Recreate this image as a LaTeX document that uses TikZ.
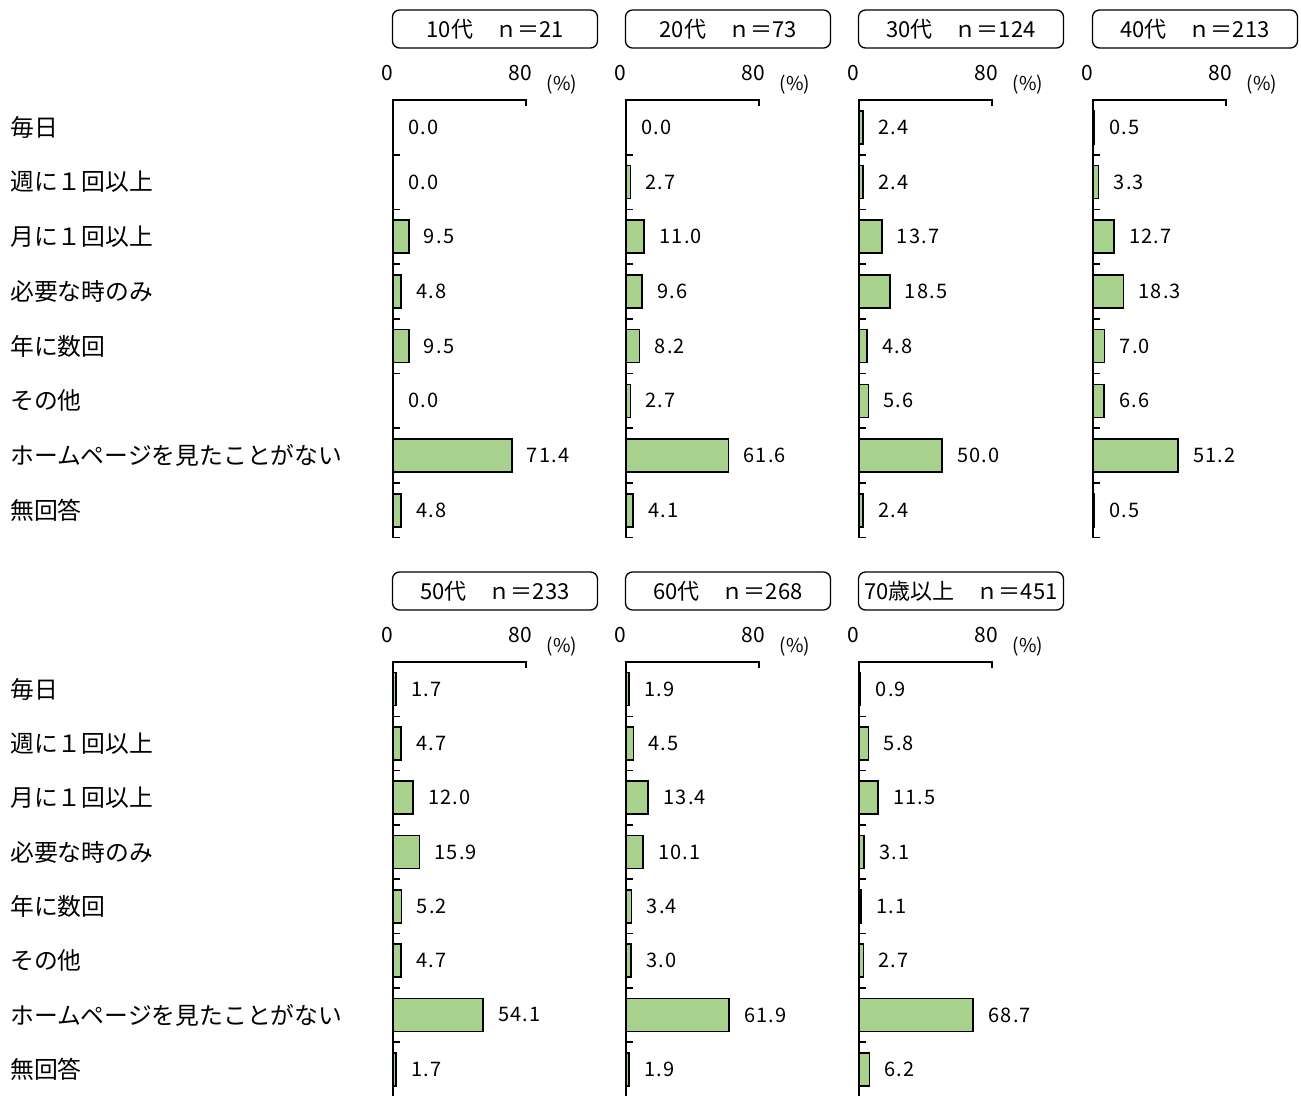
\documentclass[tikz,border=0pt]{standalone}
\usepackage{fontspec}
\setmainfont{Noto Sans CJK JP}
\definecolor{barg}{HTML}{A9D18E}
\newcommand\drawpanel[6]{%
  \node[hdrbox] (#1-h) at (#2+102,#3+29) {#5};
  \node[axtxt] (#1-z) at (#2-6,#3+73) {0};
  \node[axtxt] (#1-e) at (#2+127,#3+73) {80};
  \node[pcttxt] (#1-p) at (#2+169,#3+85) {(\%)};
  \foreach \v [count=\i from 0] in {#6} {
    \pgfmathsetmacro\w{\v*1.6625}
    \pgfmathsetmacro\yc{#3+100+(\i+0.5)*#4}
    \ifdim\v pt>0pt
      \draw[barbox] (#2,\yc-16.5) rectangle (#2+\w,\yc+16.5);
    \fi
    \node[valtxt] (#1-v\i) at (#2+\w+15,\yc) {\v};
  }
  \draw[axline] (#2,#3+100+8*#4) -- (#2,#3+100) -- (#2+133,#3+100) -- ++(0,6);
  \foreach \k in {1,...,8} {
    \draw[axline] (#2,#3+100+\k*#4) -- ++(7,0);
  }
}
\begin{document}
\begin{tikzpicture}[x=1pt,y=-1pt,
  barbox/.style={draw=black,line width=1.6pt,fill=barg},
  axline/.style={line width=1.6pt},
  valtxt/.style={anchor=west,inner sep=0pt,font=\addfontfeatures{LetterSpace=6}\fontsize{20}{20}\selectfont},
  axtxt/.style={inner sep=0pt,font=\fontsize{21}{21}\selectfont},
  pcttxt/.style={inner sep=0pt,font=\fontsize{19}{19}\selectfont},
  cattxt/.style={anchor=west,inner sep=0pt,font=\fontsize{23.8}{23.8}\selectfont},
  hdrbox/.style={draw=black,line width=1.3pt,rounded corners=7pt,minimum width=205pt,minimum height=38pt,inner sep=0pt,font=\fontsize{22}{22}\selectfont}]
\useasboundingbox (0,0) rectangle (1301,1095);
\drawpanel{pa}{393}{0}{54.7}{10代　ｎ＝21}{0.0,0.0,9.5,4.8,9.5,0.0,71.4,4.8}
\drawpanel{pb}{626}{0}{54.7}{20代　ｎ＝73}{0.0,2.7,11.0,9.6,8.2,2.7,61.6,4.1}
\drawpanel{pc}{859}{0}{54.7}{30代　ｎ＝124}{2.4,2.4,13.7,18.5,4.8,5.6,50.0,2.4}
\drawpanel{pd}{1093}{0}{54.7}{40代　ｎ＝213}{0.5,3.3,12.7,18.3,7.0,6.6,51.2,0.5}
\drawpanel{pe}{393}{562}{54.3}{50代　ｎ＝233}{1.7,4.7,12.0,15.9,5.2,4.7,54.1,1.7}
\drawpanel{pf}{626}{562}{54.3}{60代　ｎ＝268}{1.9,4.5,13.4,10.1,3.4,3.0,61.9,1.9}
\drawpanel{pg}{859}{562}{54.3}{70歳以上　ｎ＝451}{0.9,5.8,11.5,3.1,1.1,2.7,68.7,6.2}
\foreach \c [count=\i from 0] in {毎日,週に１回以上,月に１回以上,必要な時のみ,年に数回,その他,ホームページを見たことがない,無回答} {
  \pgfmathsetmacro\ya{100+(\i+0.5)*54.7}
  \pgfmathsetmacro\yb{662+(\i+0.5)*54.3}
  \node[cattxt] (cu\i) at (10,\ya) {\c};
  \node[cattxt] (cl\i) at (10,\yb) {\c};
}
\end{tikzpicture}
\end{document}
